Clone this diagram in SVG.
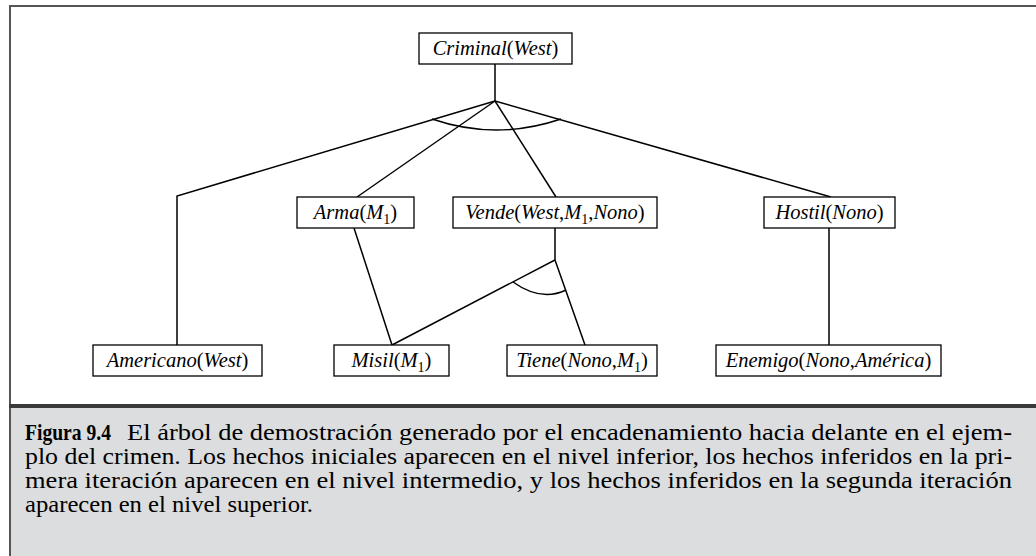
<svg xmlns="http://www.w3.org/2000/svg" width="1036" height="556" viewBox="0 0 1036 556">
<style>
.box{fill:#fff;stroke:#000;stroke-width:1.3}
.lbl{font-size:20.5px;fill:#000;text-anchor:middle}
.i{font-style:italic}
.sub{font-size:14px}
.con{fill:none;stroke:#000;stroke-width:1.5;stroke-linejoin:miter}
.cap{font-size:23px;fill:#000}
</style>
<rect x="0" y="0" width="1036" height="556" fill="#fff"/>
<rect x="9" y="408" width="1027" height="148" fill="#dcdddf"/>
<line x1="9" y1="6" x2="1036" y2="6" stroke="#555" stroke-width="2"/>
<line x1="10" y1="5" x2="10" y2="556" stroke="#555" stroke-width="2"/>
<line x1="9" y1="406" x2="1036" y2="406" stroke="#3a3a3a" stroke-width="4"/>
<g id="connectors">
<path class="con" d="M495,64 L495,101"/>
<path class="con" d="M495,101 L177,196 L177,345"/>
<path class="con" d="M495,101 L357,197"/>
<path class="con" d="M495,101 L556,197"/>
<path class="con" d="M495,101 L831,197"/>
<path class="con" d="M432,119 Q496,141 561,119"/>
<path class="con" d="M354,228 L392,345"/>
<path class="con" d="M555,228 L555,260 L392,345"/>
<path class="con" d="M555,260 L585,345"/>
<path class="con" d="M513,282 Q541,302 566,290"/>
<path class="con" d="M829,228 L829,345"/>
</g>
<g font-family="Liberation Serif, serif">
<g id="criminal">
<rect class="box" x="419" y="33" width="153" height="31"/>
<text class="lbl" x="495.5" y="55"><tspan class="i">Criminal</tspan>(<tspan class="i">West</tspan>)</text>
</g>
<g id="arma">
<rect class="box" x="297" y="197" width="117" height="31"/>
<text class="lbl" x="355.5" y="219"><tspan class="i">Arma</tspan>(<tspan class="i">M</tspan><tspan class="sub" dy="5">1</tspan><tspan dy="-5">)</tspan></text>
</g>
<g id="vende">
<rect class="box" x="453" y="197" width="204" height="31"/>
<text class="lbl" x="555" y="219"><tspan class="i">Vende</tspan>(<tspan class="i">West</tspan>,<tspan class="i">M</tspan><tspan class="sub" dy="5">1</tspan><tspan dy="-5">,</tspan><tspan class="i">Nono</tspan>)</text>
</g>
<g id="hostil">
<rect class="box" x="764" y="197" width="131" height="31"/>
<text class="lbl" x="829.5" y="219"><tspan class="i">Hostil</tspan>(<tspan class="i">Nono</tspan>)</text>
</g>
<g id="americano">
<rect class="box" x="93" y="345" width="169" height="31"/>
<text class="lbl" x="177.5" y="367"><tspan class="i">Americano</tspan>(<tspan class="i">West</tspan>)</text>
</g>
<g id="misil">
<rect class="box" x="334" y="345" width="115" height="31"/>
<text class="lbl" x="391.5" y="367"><tspan class="i">Misil</tspan>(<tspan class="i">M</tspan><tspan class="sub" dy="5">1</tspan><tspan dy="-5">)</tspan></text>
</g>
<g id="tiene">
<rect class="box" x="507" y="345" width="150" height="31"/>
<text class="lbl" x="582" y="367"><tspan class="i">Tiene</tspan>(<tspan class="i">Nono</tspan>,<tspan class="i">M</tspan><tspan class="sub" dy="5">1</tspan><tspan dy="-5">)</tspan></text>
</g>
<g id="enemigo">
<rect class="box" x="716" y="345" width="225" height="31"/>
<text class="lbl" x="828.5" y="367"><tspan class="i">Enemigo</tspan>(<tspan class="i">Nono</tspan>,<tspan class="i">América</tspan>)</text>
</g>
<g id="caption">
<text class="cap" x="25" y="440" font-weight="bold" textLength="86" lengthAdjust="spacingAndGlyphs">Figura 9.4</text>
<text class="cap" x="127" y="440" textLength="885" lengthAdjust="spacingAndGlyphs">El árbol de demostración generado por el encadenamiento hacia delante en el ejem-</text>
<text class="cap" x="25" y="464" textLength="987" lengthAdjust="spacingAndGlyphs">plo del crimen. Los hechos iniciales aparecen en el nivel inferior, los hechos inferidos en la pri-</text>
<text class="cap" x="25" y="488" textLength="987" lengthAdjust="spacingAndGlyphs">mera iteración aparecen en el nivel intermedio, y los hechos inferidos en la segunda iteración</text>
<text class="cap" x="25" y="512" textLength="288" lengthAdjust="spacingAndGlyphs">aparecen en el nivel superior.</text>
</g>
</g>
</svg>
